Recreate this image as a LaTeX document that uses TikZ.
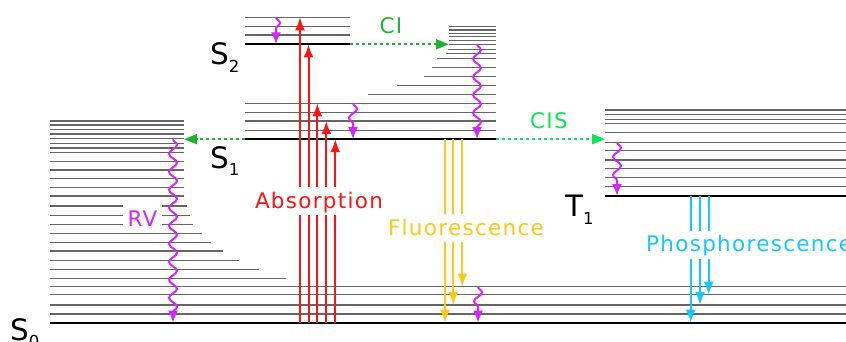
\documentclass[tikz,border=0pt]{standalone}
\usepackage{fontspec}
\setmainfont{DejaVu Sans}
\newfontfamily\lblfont[LetterSpace=6]{DejaVu Sans}
\usetikzlibrary{
    arrows.meta,
    decorations.pathmorphing, % wavy relaxation arrows
    positioning
}

\definecolor{absred}{RGB}{255,20,20}
\definecolor{fluoyel}{RGB}{255,200,20}
\definecolor{phoscyan}{RGB}{20,200,255}
\definecolor{vibmag}{RGB}{210,40,255}
\definecolor{cigreen}{RGB}{30,180,50}
\definecolor{cisgreen}{RGB}{10,230,90}

% state label with subscript
\newcommand{\statename}[2]{#1\raisebox{-7.7pt}{\fontsize{16.5}{16.5}\selectfont #2}}

\tikzset{
    level/.style   = {black!60, line width=1.2pt},
    ground/.style  = {black, line width=2.2pt},
    radiate/.style = {line width=2pt, -{Latex[length=13pt,width=10pt]}},
    absorb/.style  = {radiate, absred},
    fluo/.style    = {radiate, fluoyel},
    phos/.style    = {radiate, phoscyan},
    relax/.style   = {vibmag, line width=2pt, -{Latex[length=12pt,width=10pt]},
                      decorate, decoration={snake, amplitude=4pt,
                      segment length=18pt, post length=10pt}},
    cross/.style   = {line width=1.8pt, dash pattern=on 3.3pt off 2.7pt,
                      -{Triangle[length=13pt,width=10pt]}},
    lbl/.style     = {font=\lblfont\fontsize{21.5}{21.5}\selectfont, anchor=base,
                      fill=white, text height=19pt, text depth=5pt,
                      inner xsep=3pt, inner ysep=2pt},
    statelbl/.style= {font=\fontsize{29.5}{29.5}\selectfont, anchor=base west,
                      inner sep=0pt}
}

\begin{document}
\begin{tikzpicture}[x=1pt, y=-1pt]
    \useasboundingbox (0,0) rectangle (846,342);

    % S0 ladder
    \foreach \y in {121,125,129.3,134,138.7,143.3,148,152.3,161.7,170,178.3,187.3,196}
        \draw[level] (50,\y) -- (184,\y);
    \foreach \y/\e in {206/187,215.3/190,224.3/193,233.7/202,242.7/211,251/223,260.3/239,269.3/259,278.3/286}
        \draw[level] (50,\y) -- (\e,\y);
    \foreach \y in {286.7,294.7,305,314}
        \draw[level] (50,\y) -- (846,\y);
    \draw[ground] (50,322.7) coordinate (s0v0) -- (846,322.7);
    \coordinate (s0v2) at (50,305);
    \coordinate (s0v3) at (50,294.7);
    \coordinate (s0v4) at (50,286.7);
    \coordinate (s0top) at (184,139.2);

    % S1 ladder
    \foreach \y/\s in {26.7/449,30/449,33.3/449,36.7/449,40.7/449,44.3/449,49.3/448,53.3/446,58.3/437,67.7/431.7,76.5/424,85.8/397,94.3/368}
        \draw[level] (\s,\y) -- (496,\y);
    \foreach \y in {103.3,112.3,121,130.7}
        \draw[level] (245,\y) -- (496,\y);
    \draw[ground] (245,139.2) coordinate (s1v0) -- (496,139.2) coordinate (s1end);
    \coordinate (s1v2) at (245,121);
    \coordinate (s1v4) at (245,103.3);
    \coordinate (s1hi) at (449,44.3);

    % S2 ladder
    \foreach \y in {17.3,26.7,35}
        \draw[level] (245,\y) -- (350,\y);
    \draw[ground] (245,44.3) coordinate (s2v0) -- (350,44.3) coordinate (s2end);
    \coordinate (s2v3) at (245,17.3);

    % T1 ladder
    \foreach \y in {110,114.7,119.3,123.3,132.7,142.3,150.7,160,168.3,177.7,186.7}
        \draw[level] (605,\y) -- (846,\y);
    \draw[ground] (605,196) coordinate (t1v0) -- (846,196);
    \coordinate (t1in) at (605,139.2);

    % absorption
    \coordinate (ab1) at (300,322.7);
    \coordinate (ab2) at (308.5,322.7);
    \coordinate (ab3) at (317.3,322.7);
    \coordinate (ab4) at (326.3,322.7);
    \coordinate (ab5) at (335.3,322.7);
    \draw[absorb] (ab1) -- (ab1 |- s2v3);
    \draw[absorb] (ab2) -- (ab2 |- s2v0);
    \draw[absorb] (ab3) -- (ab3 |- s1v4);
    \draw[absorb] (ab4) -- (ab4 |- s1v2);
    \draw[absorb] (ab5) -- (ab5 |- s1v0);

    % fluorescence
    \coordinate (fl1) at (445,139.2);
    \coordinate (fl2) at (453.3,139.2);
    \coordinate (fl3) at (462.3,139.2);
    \draw[fluo] (fl1) -- (fl1 |- s0v0);
    \draw[fluo] (fl2) -- (fl2 |- s0v2);
    \draw[fluo] (fl3) -- (fl3 |- s0v4);

    % phosphorescence
    \coordinate (ph1) at (690.7,196);
    \coordinate (ph2) at (700,196);
    \coordinate (ph3) at (708.7,196);
    \draw[phos] (ph1) -- (ph1 |- s0v0);
    \draw[phos] (ph2) -- (ph2 |- s0v2);
    \draw[phos] (ph3) -- (ph3 |- s0v3);

    % crossings
    \draw[cross, cigreen]  (s2end) -- (s1hi);
    \draw[cross, cigreen]  (s1v0) -- (s0top);
    \draw[cross, cisgreen] (s1end) -- (t1in);

    % vibrational relaxation
    \coordinate (vr1) at (276,17.3);
    \coordinate (vr2) at (353,103.3);
    \coordinate (vr3) at (477,44.3);
    \coordinate (vr4) at (173,139.2);
    \coordinate (vr5) at (617,142.3);
    \coordinate (vr6) at (478,286.7);
    \draw[relax] (vr1) -- (vr1 |- s2v0);
    \draw[relax] (vr2) -- (vr2 |- s1v0);
    \draw[relax] (vr3) -- (vr3 |- s1v0);
    \draw[relax] (vr4) -- (vr4 |- s0v0);
    \draw[relax] (vr5) -- (vr5 |- t1v0);
    \draw[relax] (vr6) -- (vr6 |- s0v0);

    % labels
    \node[lbl, text=absred]   (absl) at (319,208.3) {Absorption};
    \node[lbl, text=fluoyel]  (fluol) at (466,235) {Fluorescence};
    \node[lbl, text=phoscyan, anchor=base west] (phosl) at (643,251.7) {Phosphorescence};
    \node[lbl, text=vibmag, text depth=0pt, inner xsep=5pt, inner ysep=3pt] (rvl) at (142.5,226.7) {RV};
    \node[lbl, text=cigreen, fill=none]  (cil) at (391,33.3) {CI};
    \node[lbl, text=cisgreen, fill=none] (cisl) at (549,129) {CIS};

    \node[statelbl] (s0l) at (10,340)   {\statename{S}{0}};
    \node[statelbl] (s1l) at (210,168.3) {\statename{S}{1}};
    \node[statelbl] (s2l) at (210,64.5)  {\statename{S}{2}};
    \node[statelbl] (t1l) at (565,216.7) {\statename{T}{1}};
\end{tikzpicture}
\end{document}
